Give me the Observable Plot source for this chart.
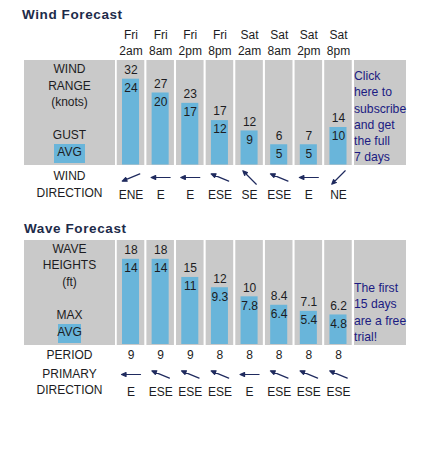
<!DOCTYPE html>
<html><head><meta charset="utf-8">
<script src="https://cdn.jsdelivr.net/npm/d3@7"></script>
<script src="https://cdn.jsdelivr.net/npm/@observablehq/plot@0.6"></script>
<style>
html,body{margin:0;padding:0;background:#fff;}
#page{position:relative;width:437px;height:450px;overflow:hidden;font:12px "Liberation Sans",Arial,sans-serif;color:#1c1c22;}
#page svg{position:absolute;left:0;background:none;}
.title{position:absolute;font-weight:bold;font-size:13.5px;letter-spacing:.6px;color:#1d2b4a;line-height:16px;white-space:nowrap;}
.panel{position:absolute;background:#c9c9c9;}
.chip{position:absolute;background:#69b5da;}
.lab{position:absolute;left:24px;width:91px;text-align:center;line-height:16px;white-space:nowrap;}
.note{position:absolute;left:354px;color:#1b1b82;font-size:12.2px;line-height:16.3px;white-space:pre;}
</style></head>
<body><div id="page">
<div class="title" style="left:22px;top:6.5px">Wind Forecast</div>
<div class="panel" style="left:24px;top:60px;width:91px;height:105px"></div>
<div class="chip" style="left:54px;top:144px;width:31px;height:19px"></div>
<div class="lab" style="top:61px">WIND</div>
<div class="lab" style="top:77.5px">RANGE</div>
<div class="lab" style="top:94px">(knots)</div>
<div class="lab" style="top:127px">GUST</div>
<div class="lab" style="top:144px">AVG</div>
<div class="lab" style="top:168px">WIND</div>
<div class="lab" style="top:185px">DIRECTION</div>
<div class="panel" style="left:354px;top:60px;width:52px;height:105px"></div>
<div class="note" style="top:68px">Click
here to
subscribe
and get
the full
7 days</div>

<div class="title" style="left:24px;top:220.5px">Wave Forecast</div>
<div class="panel" style="left:24px;top:240px;width:91px;height:105px"></div>
<div class="chip" style="left:58px;top:324px;width:23px;height:19px"></div>
<div class="lab" style="top:241px">WAVE</div>
<div class="lab" style="top:257px">HEIGHTS</div>
<div class="lab" style="top:274px">(ft)</div>
<div class="lab" style="top:307px">MAX</div>
<div class="lab" style="top:324px">AVG</div>
<div class="lab" style="top:347px">PERIOD</div>
<div class="lab" style="top:366px">PRIMARY</div>
<div class="lab" style="top:382px">DIRECTION</div>
<div class="panel" style="left:354px;top:240px;width:52px;height:105px"></div>
<div class="note" style="top:280px">The first
15 days
are a free
trial!</div>
</div>
<script>
const times = ["Fri\n2am","Fri\n8am","Fri\n2pm","Fri\n8pm","Sat\n2am","Sat\n8am","Sat\n2pm","Sat\n8pm"];
const windGust = [32,27,23,17,12,6,7,14];
const windAvg = [24,20,17,12,9,5,5,10];
const windDir = ["ENE","E","E","ESE","SE","ESE","E","NE"];
const waveMax = ["18","18","15","12","10","8.4","7.1","6.2"];
const waveAvg = ["14","14","11","9.3","7.8","6.4","5.4","4.8"];
const wavePeriod = [9,9,9,8,8,8,8,8];
const waveDir = ["E","ESE","ESE","ESE","E","ESE","ESE","ESE"];
const compass = {NE:45, ENE:67.5, E:90, ESE:112.5, SE:135};

const PANEL = "#c9c9c9", BAR = "#69b5da", INK = "#1c1c22", ARROW = "#1f2a5e";
const arrowShape = {
  draw(ctx, l) {
    ctx.moveTo(0, 0); ctx.lineTo(0, -l);
    ctx.lineTo(-2, -l + 4.5); ctx.lineTo(2, -l + 4.5); ctx.lineTo(0, -l);
  }
};

function chart({top, height, marginTop, marginBottom, domain, base, high, low, dirs, showAxis, extra, arrowDy, dirDy}) {
  const rows = times.map((t, i) => ({t, high: high[i], low: +low[i], lowText: String(low[i]), dir: dirs[i]}));
  const svg = Plot.plot({
    width: 437, height, marginTop, marginBottom, marginLeft: 115.7, marginRight: 84.2,
    style: {fontFamily: '"Liberation Sans",Arial,sans-serif', fontSize: "12px", background: "none", color: INK},
    x: {type: "band", domain: times, padding: 0, round: false, axis: null},
    y: {domain, axis: null},
    marks: [
      showAxis ? Plot.axisX({anchor: "top", tickSize: 0, tickPadding: 6, lineHeight: 1.33, label: null, fontSize: 12}) : null,
      Plot.rectY(rows, {x: "t", y1: domain[0], y2: domain[1], fill: PANEL, insetLeft: 1.05, insetRight: 1.05}),
      Plot.rectY(rows, {x: "t", y1: base, y2: "low", fill: BAR, insetLeft: 6.3, insetRight: 6.3}),
      Plot.text(rows, {x: "t", y: "low", text: d => String(d.high), dy: -9, fontSize: 12, fill: INK}),
      Plot.text(rows, {x: "t", y: "low", text: "lowText", dy: 9, fontSize: 12, fill: INK}),
      extra ? Plot.text(rows, {x: "t", y: domain[0], text: (d, i) => String(extra[i]), dy: 10, fontSize: 12, fill: INK}) : null,
      Plot.vector(rows, {x: "t", y: domain[0], dy: arrowDy, length: 19, anchor: "middle",
        rotate: d => compass[d.dir] + 180, shape: arrowShape, stroke: ARROW, fill: ARROW, strokeWidth: 1.2}),
      Plot.text(rows, {x: "t", y: domain[0], text: "dir", dy: dirDy, fontSize: 12, fill: INK})
    ]
  });
  svg.style.top = top + "px";
  document.getElementById("page").appendChild(svg);
}

chart({top: 0, height: 210, marginTop: 60, marginBottom: 45,
  domain: [-1.015, 29.42], base: -0.87, high: windGust, low: windAvg, dirs: windDir,
  showAxis: true, arrowDy: 12, dirDy: 30});
chart({top: 240, height: 170, marginTop: 0, marginBottom: 65,
  domain: [-0.248, 17.11], base: -0.083, high: waveMax, low: waveAvg, dirs: waveDir,
  showAxis: false, extra: wavePeriod, arrowDy: 29, dirDy: 47});
</script>
</body></html>
